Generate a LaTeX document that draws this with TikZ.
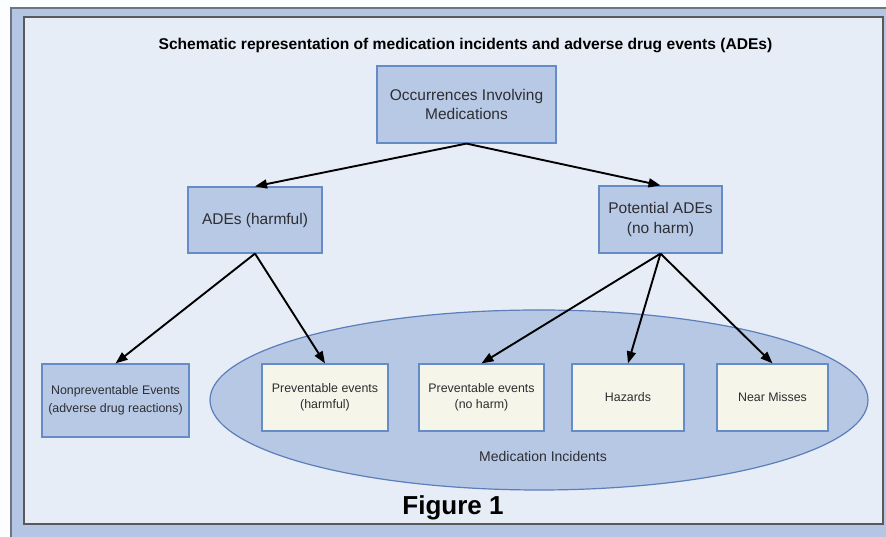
\documentclass[tikz,border=0pt]{standalone}
\usepackage{fontspec}
\setmainfont{Liberation Sans}
\usepackage{xcolor}
\usepackage{tikz}
\usetikzlibrary{shapes.geometric, arrows.meta, positioning}
\definecolor{MedFrame}{RGB}{180, 198, 228}
\definecolor{MedEdge}{RGB}{110, 116, 128}
\definecolor{MedPanel}{RGB}{231, 237, 247}
\definecolor{MedBox}{RGB}{184, 201, 229}
\definecolor{MedBorder}{RGB}{102, 140, 200}
\definecolor{MedCream}{RGB}{245, 245, 234}
\definecolor{MedOval}{RGB}{183, 200, 228}
\definecolor{MedOvalLine}{RGB}{92, 126, 186}
\definecolor{MedText}{RGB}{45, 45, 50}

\begin{document}
\begin{tikzpicture}[x=1pt,y=1pt,
  catbox/.style={draw=MedBorder, fill=MedBox, line width=1.2pt, align=center,
    text=MedText, font=\fontsize{15.5}{19.5}\selectfont, inner sep=0pt},
  subbox/.style={draw=MedBorder, fill=MedCream, line width=1.2pt, align=center,
    text=MedText, font=\fontsize{12.4}{16}\selectfont, inner sep=0pt},
  link/.style={-{Triangle[length=12pt,width=9pt]}, line width=1.9pt, black}]
  \path[use as bounding box] (0,0) rectangle (886,537);

  % Outer frame
  \fill[white!96!MedFrame] (0,0) rectangle (886,537);
  \fill[MedFrame] (11,0) rectangle (886,529);
  \draw[MedEdge, line width=1.2pt] (11,0) |- (886,529);

  % Inner panel
  \fill[MedPanel] (24,13) rectangle (883,520);
  \draw[black!65, line width=1.5pt] (24,13) rectangle (883,520);

  % Title
  \node (title) at (465.5,491) {\fontsize{15.6}{18}\selectfont\bfseries Schematic representation of medication incidents and adverse drug events (ADEs)};

  % Medication incidents oval
  \node (oval) [ellipse, draw=MedOvalLine, fill=MedOval, line width=1.2pt,
    minimum width=658, minimum height=180, inner sep=0pt] at (539,137) {};
  \node (incid) [text=MedText, font=\fontsize{14}{17}\selectfont] at (543,80) {Medication Incidents};

  % Upper levels
  \node (occ) [catbox, minimum width=179, minimum height=77] at (466.5,432.5) {Occurrences Involving\\Medications};
  \node (ade) [catbox, minimum width=134, minimum height=66] at (255,317) {ADEs (harmful)};
  \node (pade) [catbox, minimum width=123, minimum height=67] at (660.5,317.5) {Potential ADEs\\(no harm)};

  % Lower level
  \node (nonprev) [catbox, font=\fontsize{12.4}{18}\selectfont, minimum width=147, minimum height=73] at (115.5,136.5) {Nonpreventable Events\\(adverse drug reactions)};
  \node (prevh) [subbox, minimum width=126, minimum height=67] at (325,139.5) {Preventable events\\(harmful)};
  \node (prevn) [subbox, minimum width=125, minimum height=67] at (481.5,139.5) {Preventable events\\(no harm)};
  \node (haz) [subbox, minimum width=112, minimum height=67] at (628,139.5) {Hazards};
  \node (near) [subbox, minimum width=111, minimum height=67] at (772.5,139.5) {Near Misses};

  % Arrows
  \draw[link] (occ.south) -- (ade.north);
  \draw[link] (occ.south) -- (pade.north);
  \draw[link] (ade.south) -- (nonprev.north);
  \draw[link] (ade.south) -- (prevh.north);
  \draw[link] (pade.south) -- (prevn.north);
  \draw[link] (pade.south) -- (haz.north);
  \draw[link] (pade.south) -- (near.north);

  % Caption
  \node (fig) [font=\fontsize{26}{30}\selectfont\bfseries] at (453,29) {Figure 1};
\end{tikzpicture}
\end{document}
